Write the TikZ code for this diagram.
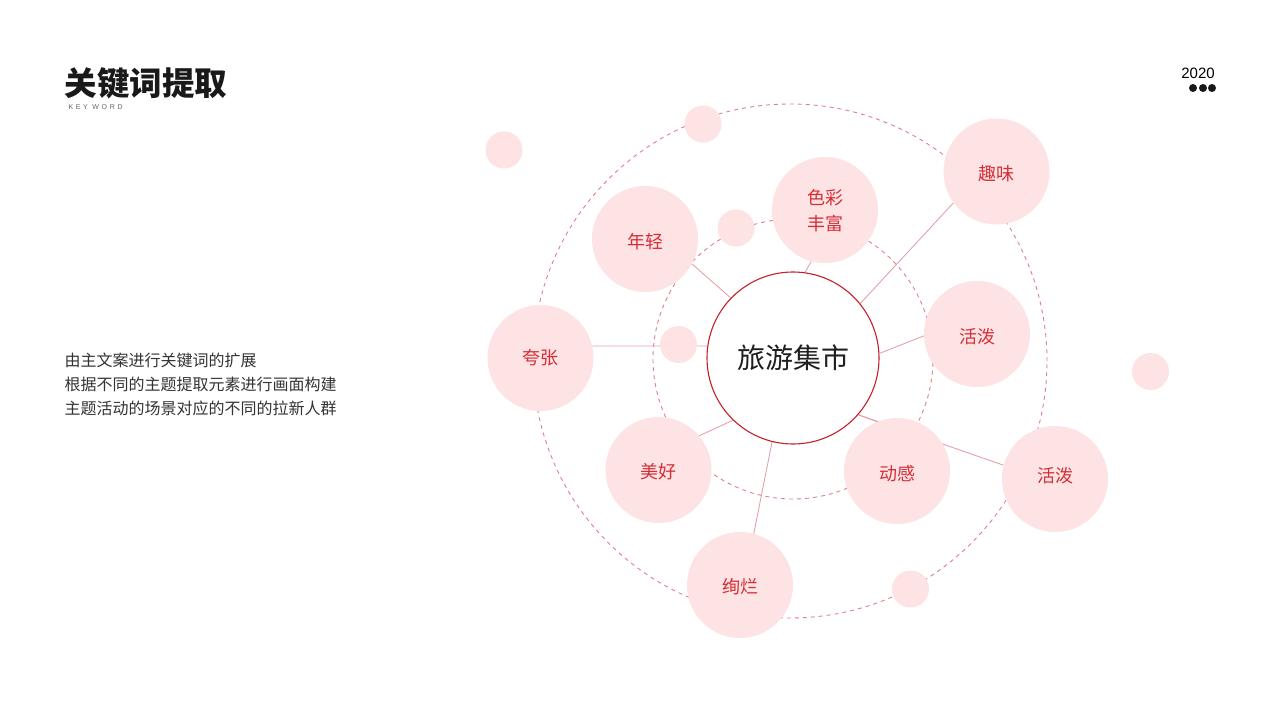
\documentclass[tikz,border=0pt]{standalone}
\usepackage{fontspec}
\setmainfont{Noto Sans CJK SC}
\newfontfamily\latinsans{Liberation Sans}
\definecolor{bubfill}{HTML}{FDE3E3}
\definecolor{txtred}{HTML}{D42F38}
\definecolor{linkc}{HTML}{E3A3AA}
\definecolor{ringc}{HTML}{E0808D}
\definecolor{cred}{HTML}{C51F2B}
\definecolor{bodytxt}{HTML}{333333}
\pgfdeclarelayer{bg}
\pgfsetlayers{bg,main}
\begin{document}
\begin{tikzpicture}[x=1pt,y=-1pt,
  bubtext/.style={text=txtred,font=\fontsize{18}{26}\selectfont,align=center,inner sep=0pt},
  bub/.style 2 args={circle,fill=bubfill,minimum size=106pt,inner sep=0pt,
    label={[bubtext,yshift=#2pt]center:#1}},
  dotc/.style={circle,fill=bubfill,minimum size=37pt,inner sep=0pt},
  link/.style={draw=linkc,line width=0.9pt},
  ring/.style={circle,draw=ringc,line width=0.9pt,dash pattern=on 4pt off 4pt,inner sep=0pt},
  blackdot/.style={circle,fill=black!90,minimum size=8pt,inner sep=0pt}]
\useasboundingbox (0,0) rectangle (1280,720);
\begin{pgfonlayer}{bg}
\fill[white] (0,0) rectangle (1280,720);
\end{pgfonlayer}

% header
\node[anchor=west,font=\fontsize{32.5}{38}\selectfont\bfseries,text=black!90] (title) at (61,83) {关键词提取};
\node[anchor=west,font=\latinsans\fontsize{7}{8}\selectfont\addfontfeatures{LetterSpace=38},text=black!60] (kw) at (65,107) {KEY WORD};
\node[font=\latinsans\fontsize{15}{17}\selectfont,text=black] (yr) at (1198,73) {2020};
\node[blackdot] (d1) at (1193,88) {};
\node[blackdot] (d2) at (1203,88) {};
\node[blackdot] (d3) at (1212,88) {};

% body text
\node[anchor=west,align=left,text=bodytxt,font=\fontsize{16}{24}\selectfont] (body) at (61,384)
  {由主文案进行关键词的扩展\\根据不同的主题提取元素进行画面构建\\主题活动的场景对应的不同的拉新人群};

% rings
\begin{pgfonlayer}{bg}
\node[ring,minimum size=514pt] (outer) at (790,361) {};
\node[ring,minimum size=280pt] (inner) at (793,359) {};
\end{pgfonlayer}

% center
\node[circle,draw=cred,line width=1.1pt,fill=white,minimum size=172pt,inner sep=0pt,
  font=\fontsize{28}{30}\selectfont,text=black!88] (c) at (793,358) {旅游集市};

% small dots
\node[dotc] (s1) at (504,150) {};
\node[dotc] (s2) at (703,124) {};
\node[dotc] (s3) at (736,228) {};
\node[dotc] (s4) at (678.5,344.5) {};
\node[dotc] (s5) at (1150.5,371.5) {};
\node[dotc] (s6) at (910.5,589) {};

% bubbles
\node[bub={年轻}{-2.5}] (nq) at (645,239) {};
\node[bub={色彩\\丰富}{-1}] (sc) at (825,210) {};
\node[bub={趣味}{-2}] (qw) at (996.5,171.5) {};
\node[bub={活泼}{-2.5}] (hp1) at (977,334) {};
\node[bub={夸张}{0}] (kz) at (540.5,358) {};
\node[bub={美好}{-2}] (mh) at (658.5,470) {};
\node[bub={动感}{-3}] (dg) at (897,471) {};
\node[bub={活泼}{3.5}] (hp2) at (1055,479) {};
\node[bub={绚烂}{-2}] (xl) at (740,585) {};

% connectors
\begin{pgfonlayer}{bg}
\draw[link] (nq.-28) -- (c.136);
\draw[link] (sc.-105) -- (c.82);
\draw[link] (qw.-144) -- (c.39);
\draw[link] (hp1.182) -- (c.3);
\draw[link] (kz.13) -- (c.172);
\draw[link] (mh.40) -- (c.226);
\draw[link] (xl.75) -- (c.-104);
\draw[link] (dg.112) -- (c.-41);
\draw[link] (hp2.165) -- (c.-41);
\end{pgfonlayer}
\end{tikzpicture}
\end{document}
